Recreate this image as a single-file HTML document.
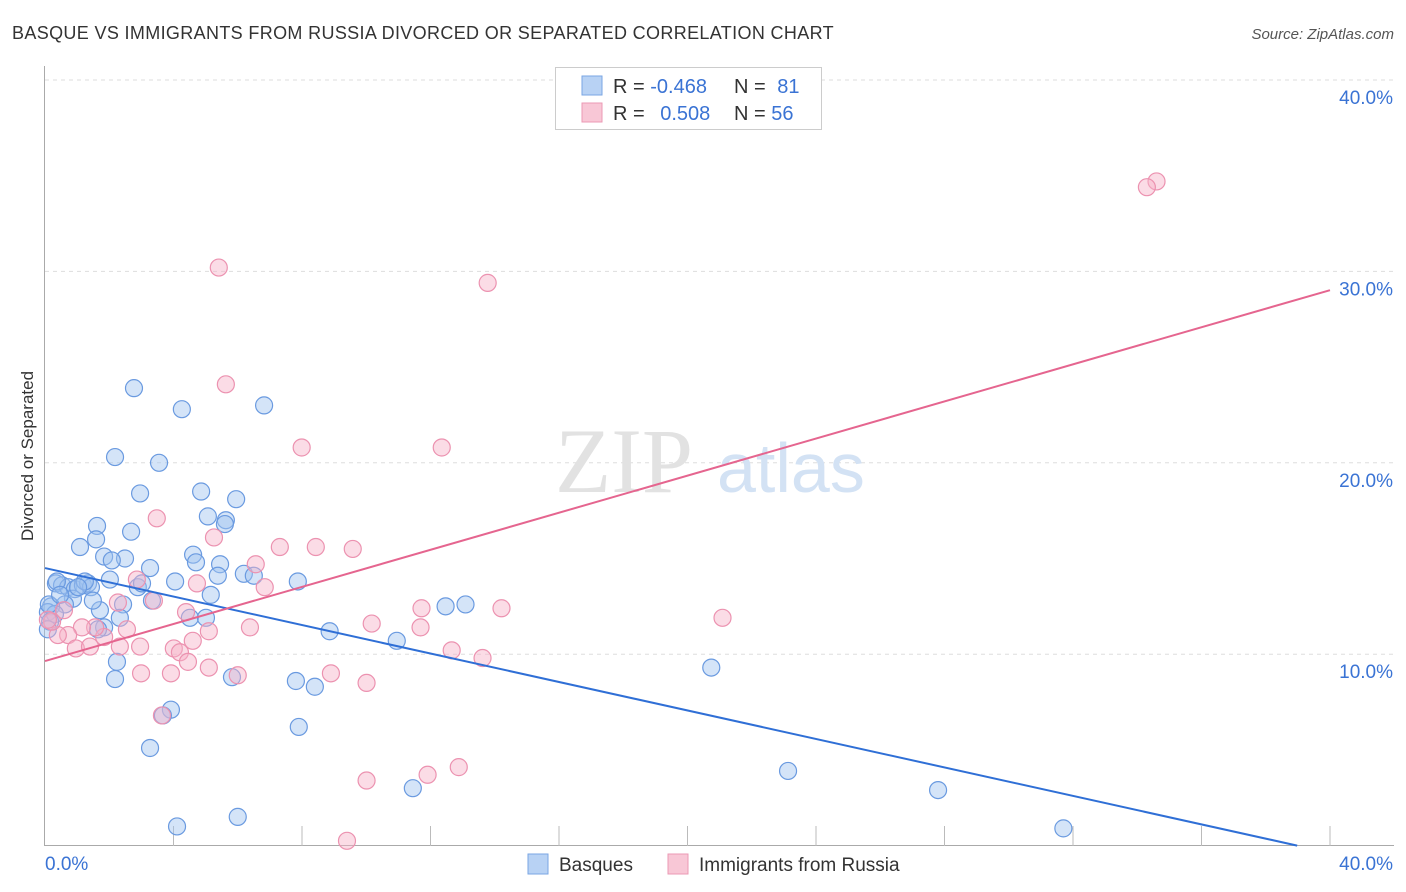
<!DOCTYPE html>
<html><head><meta charset="utf-8"><style>
body{margin:0;background:#fff;font-family:"Liberation Sans",sans-serif;}
svg{display:block}
</style></head><body>
<svg id="chart" width="1406" height="892">
<text x="12" y="39" font-size="18" letter-spacing="0.35" fill="#333">BASQUE VS IMMIGRANTS FROM RUSSIA DIVORCED OR SEPARATED CORRELATION CHART</text>
<text x="1394" y="39" font-size="15" fill="#555" font-style="italic" text-anchor="end">Source: ZipAtlas.com</text>
<text transform="translate(33,456) rotate(-90)" font-size="17" fill="#333" text-anchor="middle">Divorced or Separated</text>
<g id="grid"></g>
<g><text x="555" y="492" font-size="92" fill="#e2e2e2" font-family="Liberation Serif,serif">ZIP</text><text x="717" y="492" font-size="70" fill="#d3e2f4">atlas</text></g>
<g id="marks"></g>
<g>
<rect x="555.5" y="67.5" width="266" height="62" fill="#fff" stroke="#ccc"/>
<rect x="582" y="76" width="20" height="19" fill="#b8d2f4" stroke="#7aa6e3"/>
<rect x="582" y="103" width="20" height="19" fill="#f8c7d6" stroke="#eb9ab4"/>
<text x="613" y="93" font-size="20" fill="#333">R = <tspan fill="#3a73d4">-0.468</tspan></text>
<text x="734" y="93" font-size="20" fill="#333">N = <tspan fill="#3a73d4" dx="6">81</tspan></text>
<text x="613" y="120" font-size="20" fill="#333">R = <tspan fill="#3a73d4" dx="10">0.508</tspan></text>
<text x="734" y="120" font-size="20" fill="#333">N = <tspan fill="#3a73d4">56</tspan></text>
</g>
<g>
<rect x="528" y="854" width="20" height="20" fill="#b8d2f4" stroke="#7aa6e3"/>
<text x="559" y="871" font-size="19" fill="#333">Basques</text>
<rect x="668" y="854" width="20" height="20" fill="#f8c7d6" stroke="#eb9ab4"/>
<text x="699" y="871" font-size="19" fill="#333">Immigrants from Russia</text>
</g>
</svg>
<script>
const yTicks=[10,20,30,40];
const yTickLabels=["10.0%","20.0%","30.0%","40.0%"];
const xTickLabels=["0.0%","40.0%"];
const basquesX=[2.77,4.26,6.82,2.18,3.55,2.96,4.86,5.95,1.62,2.68,5.07,5.63,5.60,1.09,1.59,1.84,2.49,2.08,4.61,4.70,3.27,5.45,5.38,6.19,6.50,7.87,2.02,2.89,3.02,4.05,5.16,3.33,2.43,1.71,4.51,5.01,0.34,0.53,0.72,0.93,1.18,1.34,1.43,0.87,0.62,0.19,0.09,0.31,0.16,1.84,1.65,8.86,10.95,12.47,13.09,2.33,0.37,1.24,2.24,2.18,5.82,7.81,8.40,20.74,3.92,3.67,3.27,7.90,11.45,23.13,27.8,4.11,6.0,31.7,0.09,0.12,1.03,1.49,0.47];
const basquesY=[23.9,22.8,23.0,20.3,20.0,18.4,18.5,18.1,16.7,16.4,17.2,17.0,16.8,15.6,16.0,15.1,15.0,14.9,15.2,14.8,14.5,14.7,14.1,14.2,14.1,13.8,13.9,13.5,13.7,13.8,13.1,12.8,12.6,12.3,11.9,11.9,13.7,13.6,13.5,13.4,13.6,13.7,13.5,12.9,12.6,12.5,12.2,12.1,11.7,11.4,11.3,11.2,10.7,12.5,12.6,11.9,13.8,13.8,9.6,8.7,8.8,8.6,8.3,9.3,7.1,6.8,5.1,6.2,3.0,3.9,2.9,1.0,1.5,0.9,11.3,12.6,13.5,12.8,13.1];
const russiaX=[5.41,13.78,34.6,34.3,5.63,7.99,12.35,3.48,5.26,7.31,8.43,9.58,6.56,4.73,2.86,6.84,3.39,2.27,10.17,11.72,14.21,6.38,11.69,21.09,4.39,4.60,5.10,2.55,1.84,1.56,1.15,0.72,0.40,0.22,0.96,1.40,2.33,2.96,4.01,4.20,4.45,5.10,6.0,8.90,10.01,12.66,13.62,2.99,3.92,3.64,10.01,11.91,12.88,9.40,0.59,0.09];
const russiaY=[30.2,29.4,34.7,34.4,24.1,20.8,20.8,17.1,16.1,15.6,15.6,15.5,14.7,13.7,13.9,13.5,12.8,12.7,11.6,12.4,12.4,11.4,11.4,11.9,12.2,10.7,11.2,11.3,10.9,11.4,11.4,11.0,11.0,11.7,10.3,10.4,10.4,10.4,10.3,10.1,9.6,9.3,8.9,9.0,8.5,10.2,9.8,9.0,9.0,6.8,3.4,3.7,4.1,0.25,12.3,11.8];
const basquesTrend=[14.5,-0.38];
const russiaTrend=[9.64,29.02];
const X0=45,X1=1330,Y0=845.6,Y40=80;
function sx(v){return X0+(X1-X0)*v/40;}
function sy(v){return Y0-(Y0-Y40)*v/40;}
const NS="http://www.w3.org/2000/svg";
function mk(t,a,p){const e=document.createElementNS(NS,t);for(const k in a)e.setAttribute(k,a[k]);p.appendChild(e);return e;}
const grid=document.getElementById('grid'),marks=document.getElementById('marks');
yTicks.forEach((t,i)=>{
 const l=mk('line',{x1:45,x2:1394,y1:sy(t),y2:sy(t),stroke:'#ddd','stroke-dasharray':'4,4'},grid);
 
 
 const tx=mk('text',{x:1393,y:sy(t)+24,'font-size':19,fill:'#3a73d4','text-anchor':'end'},grid);
 tx.textContent=yTickLabels[i];
 
 
});
const ax=mk('line',{x1:44.5,x2:44.5,y1:66,y2:846,stroke:'#aaa'},grid);


const bx=mk('line',{x1:44,x2:1394,y1:845.5,y2:845.5,stroke:'#aaa'},grid);


for(let i=1;i<=10;i++){
 const t=mk('line',{x1:sx(i*4),x2:sx(i*4),y1:826,y2:846,stroke:'#bbb'},grid);
 
 
}
[[0,'start',45],[40,'end',1393]].forEach((d,i)=>{
 const t=mk('text',{x:d[2],y:870,'font-size':19,fill:'#3a73d4','text-anchor':d[1]},grid);
 t.textContent=xTickLabels[i];
 
 
});
function pts(xs,ys,fill,stroke,name){
 xs.forEach((x,i)=>{
  const c=mk('circle',{cx:sx(x),cy:sy(ys[i]),r:8.5,fill:fill,stroke:stroke,'stroke-width':1.2},marks);
  
  
 });
}
pts(basquesX,basquesY,'rgba(160,196,240,0.45)','#6a9ae0','basques-point');
pts(russiaX,russiaY,'rgba(246,178,200,0.45)','#ec92b0','russia-point');
function trendEnd(tr){
 let xe=40,ye=tr[1];
 if(ye<0){xe=40*tr[0]/(tr[0]-tr[1]);ye=0;}
 return [xe,ye];
}
const be=trendEnd(basquesTrend);
const bl=mk('line',{x1:sx(0),y1:sy(basquesTrend[0]),x2:sx(be[0]),y2:sy(be[1]),stroke:'#2f6fd6','stroke-width':2},marks);


const re=trendEnd(russiaTrend);
const rl=mk('line',{x1:sx(0),y1:sy(russiaTrend[0]),x2:sx(re[0]),y2:sy(re[1]),stroke:'#e5658f','stroke-width':2},marks);


</script>
</body></html>
